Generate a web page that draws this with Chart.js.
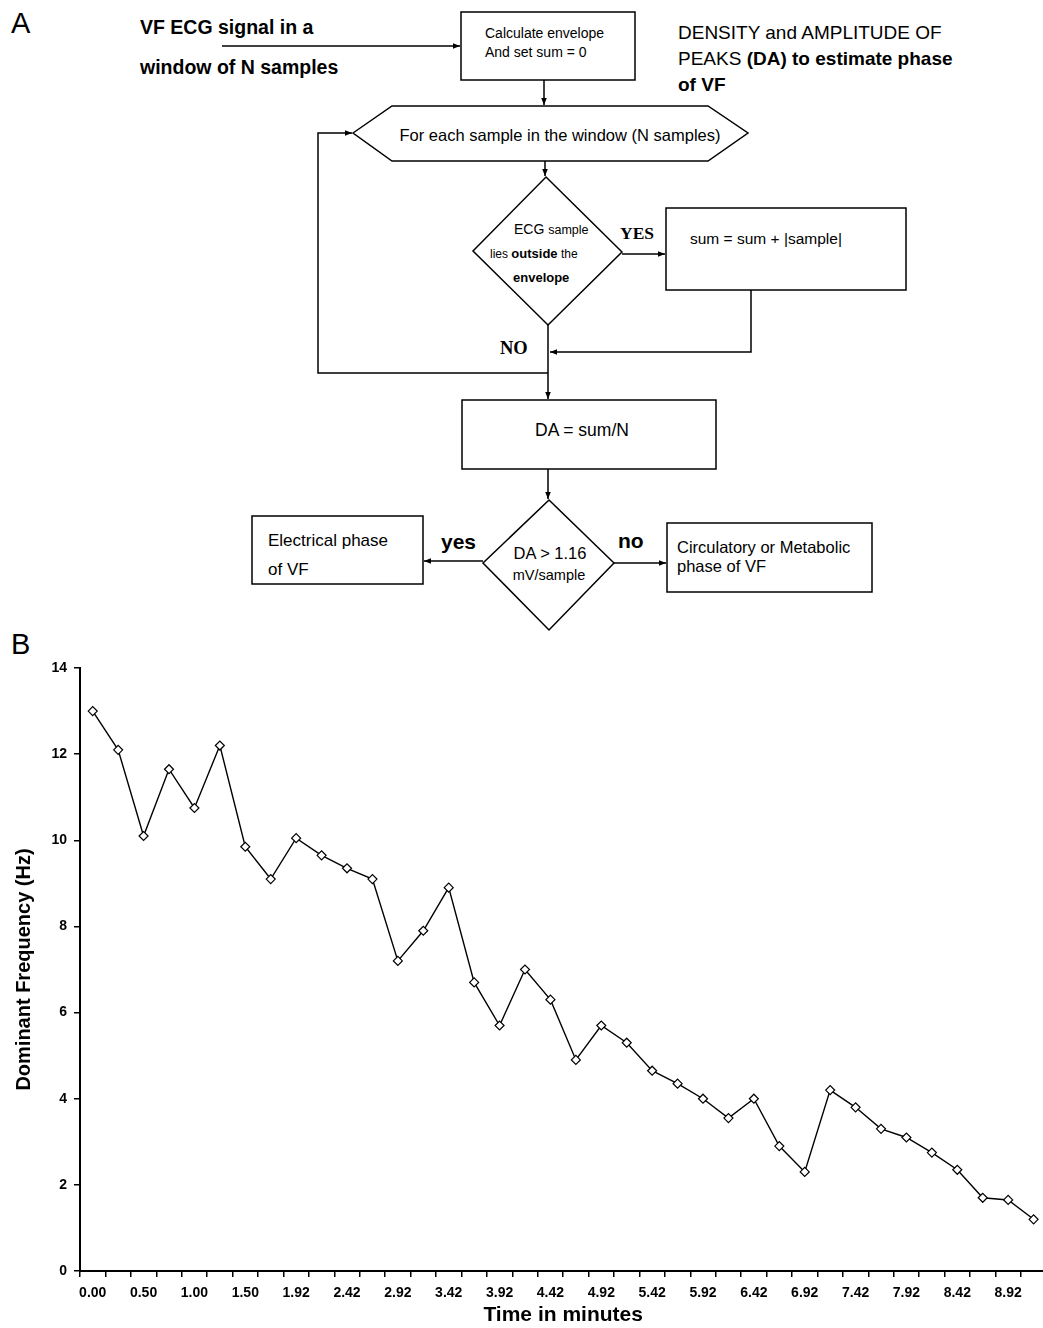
<!DOCTYPE html>
<html>
<head>
<meta charset="utf-8">
<title>VF dominant frequency</title>
<script src="https://cdn.jsdelivr.net/npm/chart.js@4.4.1/dist/chart.umd.min.js"></script>
<style>
    html, body {
        margin: 0;
        padding: 0;
        background: #fff;
        overflow: hidden;
        width: 1043px;
        height: 1328px;
    }
    #flow {
        position: absolute;
        left: 0;
        top: 0;
    }
    #flow text {
        font-family: "Liberation Sans", Arial, sans-serif;
        fill: #000;
    }
    #flow .serif {
        font-family: "Liberation Serif", "Times New Roman", serif;
        font-weight: bold;
    }
    #flow .shape {
        fill: none;
        stroke: #000;
        stroke-width: 1.5;
    }
    #chart-wrap {
        position: absolute;
        left: 0;
        top: 640px;
    }
</style>
</head>
<body>

<svg id="flow" width="1043" height="660" viewBox="0 0 1043 660">
    <defs>
        <marker id="ah" viewBox="0 0 10 10" refX="10" refY="5" markerWidth="7" markerHeight="7" orient="auto" markerUnits="userSpaceOnUse">
            <path d="M0,1 L10,5 L0,9 z" fill="#000"/>
        </marker>
    </defs>

    <text x="11" y="33" font-size="29">A</text>

    <!-- input -->
    <text x="140" y="34" font-size="19.5" font-weight="bold">VF ECG signal in a</text>
    <text x="140" y="74" font-size="19.5" font-weight="bold">window of N samples</text>
    <line class="shape" x1="222" y1="46" x2="460" y2="46" marker-end="url(#ah)"/>

    <rect class="shape" x="461" y="12" width="174" height="68"/>
    <text x="485" y="38" font-size="14">Calculate envelope</text>
    <text x="485" y="57" font-size="14">And set sum = 0</text>

    <text x="678" y="39" font-size="19">DENSITY and AMPLITUDE OF</text>
    <text x="678" y="65" font-size="19">PEAKS <tspan font-weight="bold">(DA) to estimate phase</tspan></text>
    <text x="678" y="91" font-size="19" font-weight="bold">of VF</text>

    <line class="shape" x1="544" y1="80" x2="544" y2="105" marker-end="url(#ah)"/>

    <!-- loop -->
    <polygon class="shape" points="353,133 392,106 708,106 748,133 708,161 392,161"/>
    <text x="560" y="141" font-size="16.5" text-anchor="middle">For each sample in the window (N samples)</text>
    <polyline class="shape" points="548,373 318,373 318,133 352,133" marker-end="url(#ah)"/>

    <line class="shape" x1="545" y1="161" x2="545" y2="176" marker-end="url(#ah)"/>

    <polygon class="shape" points="546,177 622,252 548,325 473,251"/>
    <text x="514" y="234" font-size="14">ECG <tspan font-size="12.5">sample</tspan></text>
    <text x="490" y="258" font-size="12">lies <tspan font-weight="bold" font-size="13">outside</tspan> the</text>
    <text x="513" y="282" font-size="13" font-weight="bold">envelope</text>

    <text class="serif" x="620" y="239" font-size="17.5">YES</text>
    <line class="shape" x1="622" y1="254" x2="665" y2="254" marker-end="url(#ah)"/>

    <rect class="shape" x="666" y="208" width="240" height="82"/>
    <text x="690" y="244" font-size="15.5">sum = sum + |sample|</text>
    <polyline class="shape" points="751,290 751,352 550,352" marker-end="url(#ah)"/>

    <text class="serif" x="500" y="354" font-size="18.5">NO</text>
    <line class="shape" x1="548" y1="325" x2="548" y2="399" marker-end="url(#ah)"/>

    <!-- decision -->
    <rect class="shape" x="462" y="400" width="254" height="69"/>
    <text x="582" y="436" font-size="17.5" text-anchor="middle">DA = sum/N</text>

    <line class="shape" x1="548" y1="469" x2="548" y2="499" marker-end="url(#ah)"/>

    <polygon class="shape" points="549,500 614,563 549,630 483,563"/>
    <text x="550" y="559" font-size="16.5" text-anchor="middle">DA &gt; 1.16</text>
    <text x="549" y="580" font-size="14.5" text-anchor="middle">mV/sample</text>

    <text x="441" y="549" font-size="21" font-weight="bold">yes</text>
    <line class="shape" x1="483" y1="561" x2="424" y2="561" marker-end="url(#ah)"/>
    <rect class="shape" x="252" y="516" width="171" height="68"/>
    <text x="268" y="546" font-size="17">Electrical phase</text>
    <text x="268" y="575" font-size="17">of VF</text>

    <text x="618" y="548" font-size="21" font-weight="bold">no</text>
    <line class="shape" x1="614" y1="563" x2="666" y2="563" marker-end="url(#ah)"/>
    <rect class="shape" x="667" y="523" width="205" height="69"/>
    <text x="677" y="553" font-size="16.5">Circulatory or Metabolic</text>
    <text x="677" y="572" font-size="16.5">phase of VF</text>

    <text x="11" y="654" font-size="29">B</text>
</svg>

<div id="chart-wrap">
    <canvas id="chart" width="1052" height="688"></canvas>
</div>

<script>
// x tick labels (every other sample is labelled)
const tickLabels = ['0.00', '0.50', '1.00', '1.50', '1.92', '2.42', '2.92', '3.42', '3.92', '4.42',
    '4.92', '5.42', '5.92', '6.42', '6.92', '7.42', '7.92', '8.42', '8.92'];

// dominant frequency (Hz) per sample
const domFreq = [13.0, 12.1, 10.1, 11.65, 10.75, 12.2, 9.85, 9.1, 10.05, 9.65,
    9.35, 9.1, 7.2, 7.9, 8.9, 6.7, 5.7, 7.0, 6.3, 4.9,
    5.7, 5.3, 4.65, 4.35, 4.0, 3.55, 4.0, 2.9, 2.3, 4.2,
    3.8, 3.3, 3.1, 2.75, 2.35, 1.7, 1.65, 1.2];

const yTicks = [0, 2, 4, 6, 8, 10, 12, 14];

// one category per sample, label only on the even ones
const categories = [];
tickLabels.forEach(t => {
    categories.push(t);
    categories.push('');
});

Chart.defaults.font.family = '"Liberation Sans", Arial, sans-serif';
Chart.defaults.color = '#000';

const chart = document.querySelector('#chart').getContext('2d');

new Chart(chart, {
    type: 'line',
    data: {
        labels: categories,
        datasets: [
            {
                label: 'Dominant Frequency',
                data: domFreq,
                borderColor: '#000',
                borderWidth: 1.4,
                tension: 0,
                pointStyle: 'rectRot',
                pointRadius: 4.5,
                pointBackgroundColor: '#fff',
                pointBorderColor: '#000',
                pointBorderWidth: 1.2
            }
        ]
    },
    options: {
        responsive: false,
        animation: false,
        layout: {
            padding: { top: 28, right: 0, bottom: 0, left: 0 }
        },
        plugins: {
            legend: { display: false },
            tooltip: { enabled: false }
        },
        scales: {
            x: {
                offset: true,
                grid: {
                    offset: true,
                    drawOnChartArea: false,
                    drawTicks: true,
                    tickLength: 6,
                    color: '#000',
                    lineWidth: 1.5
                },
                border: { display: true, color: '#000', width: 2 },
                ticks: {
                    autoSkip: false,
                    maxRotation: 0,
                    padding: 8,
                    font: { size: 14, weight: 'bold' }
                },
                title: {
                    display: true,
                    text: 'Time in minutes',
                    font: { size: 21, weight: 'bold' },
                    padding: { top: 0, bottom: 0 }
                },
                afterFit: (scale) => { scale.height = 57; }
            },
            y: {
                min: 0,
                max: 14,
                afterBuildTicks: (scale) => {
                    scale.ticks = yTicks.map(v => ({ value: v }));
                },
                grid: {
                    drawOnChartArea: false,
                    drawTicks: true,
                    tickLength: 6,
                    color: '#000',
                    lineWidth: 1.5
                },
                border: { display: true, color: '#000', width: 2 },
                ticks: {
                    padding: 7,
                    font: { size: 14, weight: 'bold' }
                },
                title: {
                    display: true,
                    text: 'Dominant Frequency (Hz)',
                    font: { size: 20, weight: 'bold' },
                    padding: { top: 12, bottom: 0 }
                },
                afterFit: (scale) => { scale.width = 80; }
            }
        }
    }
});
</script>
</body>
</html>
